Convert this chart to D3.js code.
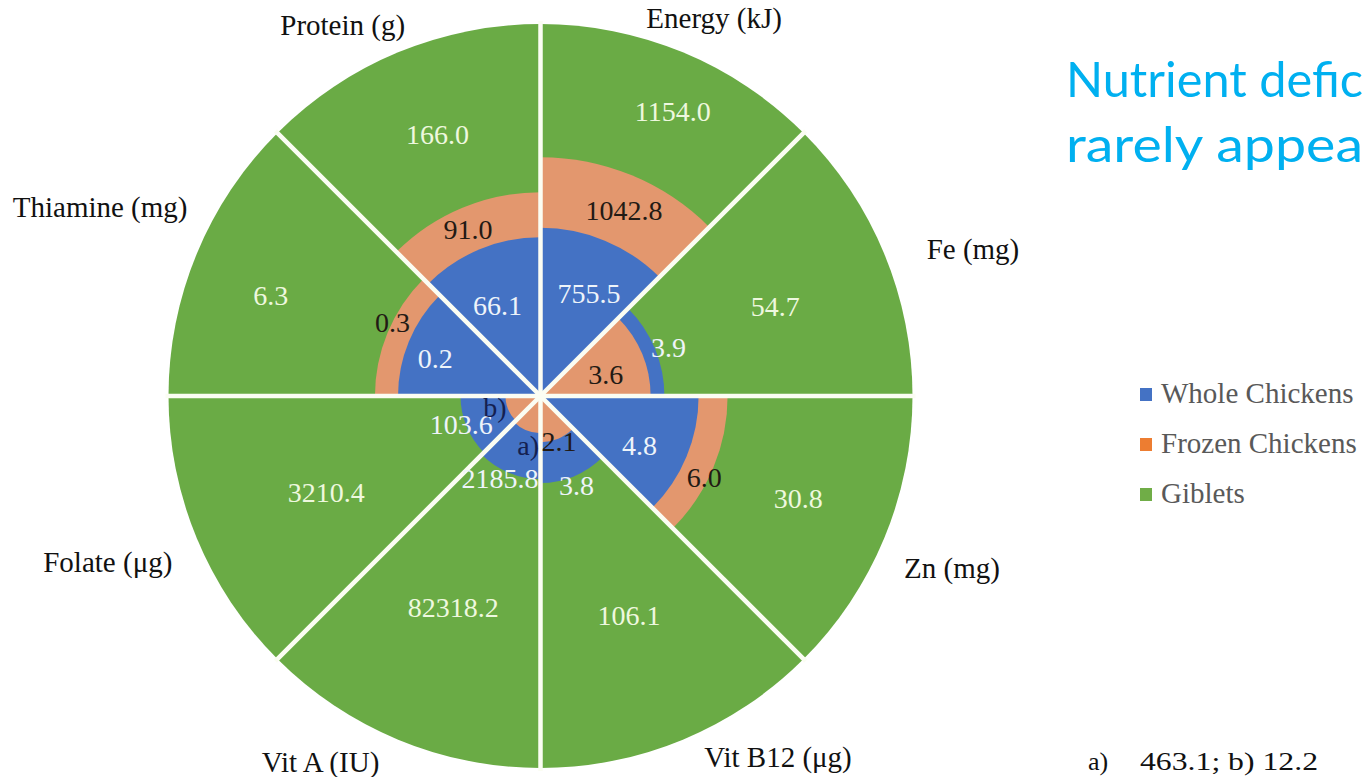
<!DOCTYPE html>
<html>
<head>
<meta charset="utf-8">
<script src="https://cdn.jsdelivr.net/npm/d3@7"></script>
<style>
  html, body { margin: 0; padding: 0; background: #ffffff; overflow: hidden; }
  svg { display: block; }
</style>
</head>
<body>
<svg id="chart" width="1368" height="777"></svg>
<script>
// ---------------- DATA ----------------
const categories = ["Energy (kJ)", "Fe (mg)", "Zn (mg)", "Vit B12 (μg)", "Vit A (IU)", "Folate (μg)", "Thiamine (mg)", "Protein (g)"];
const seriesNames = ["Whole Chickens", "Frozen Chickens", "Giblets"];
const wholeValues  = [755.5, 3.9, 4.8, 3.8, 2185.8, 103.6, 0.2, 66.1];
const frozenValues = [1042.8, 3.6, 6.0, 2.1, 463.1, 12.2, 0.3, 91.0];
const gibletValues = [1154.0, 54.7, 30.8, 106.1, 82318.2, 3210.4, 6.3, 166.0];
// plotted wedge length in each sector (percent of the giblets wedge)
const wholeLength  = [45.2, 33.3, 42.5, 23.4, 22.3, 21.5, 38.3, 42.7];
const frozenLength = [64.2, 29.6, 50.3, 12.4, 10.0, 9.4, 44.5, 54.8];
const gibletLength = [100, 100, 100, 100, 100, 100, 100, 100];
// values too small to label in place are replaced by footnote markers
const footnoteMarkers = { 4: "a)", 5: "b)" };
const titleLines = ["Nutrient defic", "rarely appea"];

// ---------------- LAYOUT ----------------
const W = 1368, H = 777;
const cx = 540.5, cy = 396, R = 372;
// label anchors: [angle in degrees clockwise from top, radius in percent units]
const gibletLabelPos = [[24.9,84.4],[69.2,67.5],[111.6,74.5],[158.1,63.7],[202.4,61.6],[245.7,63.2],[290.5,77.4],[338.5,75.5]];
const frozenLabelPos = [[24.2,54.8],[71.4,18.5],[116.6,49.2],[158,13.2],[194,13.8],[256.4,12.6],[296.3,44.4],[336.5,48.9]];
const wholeLabelPos  = [[25.4,30.4],[69.3,36.8],[116.7,29.8],[158,25.8],[206.3,24.6],[250,22.7],[289.8,30.1],[334.7,27]];
const categoryLabelPos = [[24.7,111.7],[71.2,122.8],[112.7,119.9],[146.7,116.3],[211,114.8],[249,124.6],[293.2,128.8],[331.9,112.9]];

const colors = { whole: "#4472C4", frozen: "#E3976E", giblets: "#6AAB45" };
const legendColors = ["#4472C4", "#ED7D31", "#70AD47"];
const serif = '"Liberation Serif", "Times New Roman", serif';

// ---------------- DRAW ----------------
const svg = d3.select("#chart");
svg.append("rect").attr("width", W).attr("height", H).attr("fill", "#ffffff");

const g = svg.append("g").attr("transform", `translate(${cx},${cy})`);

const angle = d3.scaleBand().domain(categories).range([0, 2 * Math.PI]).paddingInner(0).paddingOuter(0);
const rScale = d3.scaleLinear().domain([0, 100]).range([0, R]);
const arc = d3.arc().innerRadius(0);

const sectors = categories.map((c, i) => ({
  cat: c, i,
  start: angle(c), end: angle(c) + angle.bandwidth(),
  layers: [
    { key: "giblets", len: gibletLength[i], value: gibletValues[i] },
    { key: "whole", len: wholeLength[i], value: wholeValues[i] },
    { key: "frozen", len: frozenLength[i], value: frozenValues[i] }
  ]
}));

// draw larger wedges first so smaller ones sit on top
sectors.forEach(s => {
  const ordered = s.layers.slice().sort((a, b) => b.len - a.len);
  g.selectAll(null).data(ordered).enter().append("path")
    .attr("d", d => arc({ startAngle: s.start, endAngle: s.end, outerRadius: rScale(d.len) }))
    .attr("fill", d => colors[d.key]);
});

// white separators
const sepAngles = categories.map(c => angle(c));
g.selectAll("line.sep").data(sepAngles).enter().append("line")
  .attr("class", "sep")
  .attr("x1", 0).attr("y1", 0)
  .attr("x2", a => Math.sin(a) * (R + 3))
  .attr("y2", a => -Math.cos(a) * (R + 3))
  .attr("stroke", "#FBFDF3").attr("stroke-width", 4.5);

function polar(pos) {
  const a = pos[0] * Math.PI / 180, r = rScale(pos[1]);
  return [Math.sin(a) * r, -Math.cos(a) * r];
}

function addLabels(values, posArr, fill, markers) {
  g.selectAll(null).data(values).enter().append("text")
    .attr("x", (d, i) => polar(posArr[i])[0])
    .attr("y", (d, i) => polar(posArr[i])[1])
    .attr("dy", "0.34em")
    .attr("text-anchor", "middle")
    .style("font-family", serif)
    .style("font-size", "28px")
    .attr("fill", (d, i) => (markers && markers[i]) ? "#142050" : fill)
    .text((d, i) => (markers && markers[i]) ? markers[i] : d.toFixed(1));
}
addLabels(gibletValues, gibletLabelPos, "#EEF8DF");
addLabels(wholeValues, wholeLabelPos, "#EEF4FA");
addLabels(frozenValues, frozenLabelPos, "#221a14", footnoteMarkers);

// category labels
g.selectAll("text.cat").data(categories).enter().append("text")
  .attr("class", "cat")
  .attr("x", (d, i) => polar(categoryLabelPos[i])[0])
  .attr("y", (d, i) => polar(categoryLabelPos[i])[1])
  .attr("dy", "0.34em")
  .attr("text-anchor", "middle")
  .style("font-family", serif)
  .style("font-size", "29px")
  .attr("fill", "#111111")
  .text(d => d);

// legend
const legend = svg.append("g").attr("transform", "translate(1140,388)");
const lg = legend.selectAll("g").data(seriesNames).enter().append("g")
  .attr("transform", (d, i) => `translate(0,${i * 50})`);
lg.append("rect").attr("width", 12).attr("height", 13).attr("fill", (d, i) => legendColors[i]);
lg.append("text").attr("x", 21).attr("y", 15)
  .style("font-family", serif)
  .style("font-size", "29px").attr("fill", "#595959")
  .text(d => d);

// title (cut off at the right edge in the source)
svg.selectAll("text.title").data(titleLines).enter().append("text")
  .attr("class", "title")
  .attr("x", 1066).attr("y", (d, i) => 97 + i * 65)
  .style("font-family", 'Lato, "Open Sans", sans-serif')
  .style("font-size", "48px")
  .attr("fill", "#00B0F0")
  .attr("textLength", 297).attr("lengthAdjust", "spacingAndGlyphs")
  .text(d => d);

// footnote
const fn = svg.append("g").style("font-family", serif).style("font-size", "26px").attr("fill", "#111111");
fn.append("text").attr("x", 1088).attr("y", 770).text(footnoteMarkers[4]);
fn.append("text").attr("x", 1140).attr("y", 770)
  .attr("textLength", 178).attr("lengthAdjust", "spacingAndGlyphs")
  .text(`${frozenValues[4].toFixed(1)}; ${footnoteMarkers[5]} ${frozenValues[5].toFixed(1)}`);
</script>
</body>
</html>
